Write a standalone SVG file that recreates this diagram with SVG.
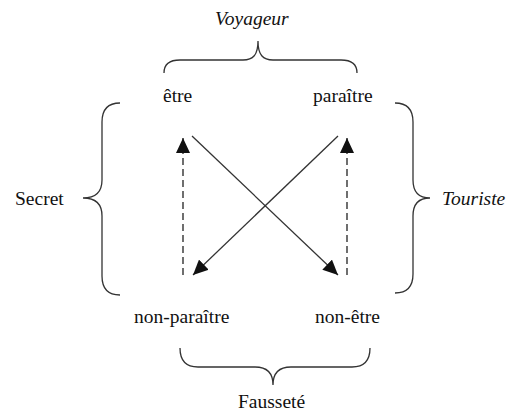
<svg xmlns="http://www.w3.org/2000/svg" width="520" height="413" viewBox="0 0 520 413">
<defs>
<marker id="ah" markerUnits="userSpaceOnUse" markerWidth="15" markerHeight="14" refX="15" refY="7" orient="auto">
<path d="M0,0 L15,7 L0,14 z" fill="#111"/>
</marker>
<style>
.t{font-family:'Liberation Serif','Times New Roman',Times,serif;font-size:19.5px;fill:#111}
.it{font-style:italic}
.brace{fill:none;stroke:#333;stroke-width:1.3}
.solid{stroke:#333;stroke-width:1.3;fill:none}
.dash{stroke:#222;stroke-width:1.3;stroke-dasharray:7 4;fill:none}
</style>
</defs>
<rect width="520" height="413" fill="#fff"/>
<g id="braces">
<path class="brace" d="M164,73 C164,64 170,60 180,60 L243,60 C253,60 258,55 258,41 C258,55 263,60 273,60 L341,60 C351,60 357,64 357,73"/>
<path class="brace" d="M120,103 C108,103 102,110 102,122 L102,180 C102,192 96,198 83,198 C96,198 102,204 102,216 L102,276 C102,288 108,295 120,295"/>
<path class="brace" d="M395,103 C407,103 413,110 413,122 L413,180 C413,192 419,198 430,198 C419,198 413,204 413,216 L413,274 C413,286 407,293 395,293"/>
<path class="brace" d="M180,348 C180,360 186,367 198,367 L255,367 C266,367 273,372 273,385 C273,372 280,367 291,367 L352,367 C364,367 370,360 370,348"/>
</g>
<g id="n-voyageur"><text class="t it" font-family="Liberation Serif, serif" x="215" y="25">Voyageur</text></g>
<g id="n-etre"><text class="t" font-family="Liberation Serif, serif" x="163" y="102">être</text></g>
<g id="n-paraitre"><text class="t" font-family="Liberation Serif, serif" x="313" y="102">paraître</text></g>
<g id="n-secret"><text class="t" font-family="Liberation Serif, serif" x="15" y="205">Secret</text></g>
<g id="n-touriste"><text class="t it" font-family="Liberation Serif, serif" x="442" y="205">Touriste</text></g>
<g id="n-nonparaitre"><text class="t" font-family="Liberation Serif, serif" x="134" y="323">non-paraître</text></g>
<g id="n-nonetre"><text class="t" font-family="Liberation Serif, serif" x="315" y="323">non-être</text></g>
<g id="n-faussete"><text class="t" font-family="Liberation Serif, serif" x="238" y="408">Fausseté</text></g>
<g id="connectors">
<line class="dash" x1="183" y1="275" x2="183" y2="138" marker-end="url(#ah)"/>
<line class="dash" x1="347" y1="275" x2="347" y2="138" marker-end="url(#ah)"/>
<line class="solid" x1="192" y1="136" x2="338" y2="275" marker-end="url(#ah)"/>
<line class="solid" x1="338" y1="136" x2="193" y2="275" marker-end="url(#ah)"/>
</g>
</svg>
